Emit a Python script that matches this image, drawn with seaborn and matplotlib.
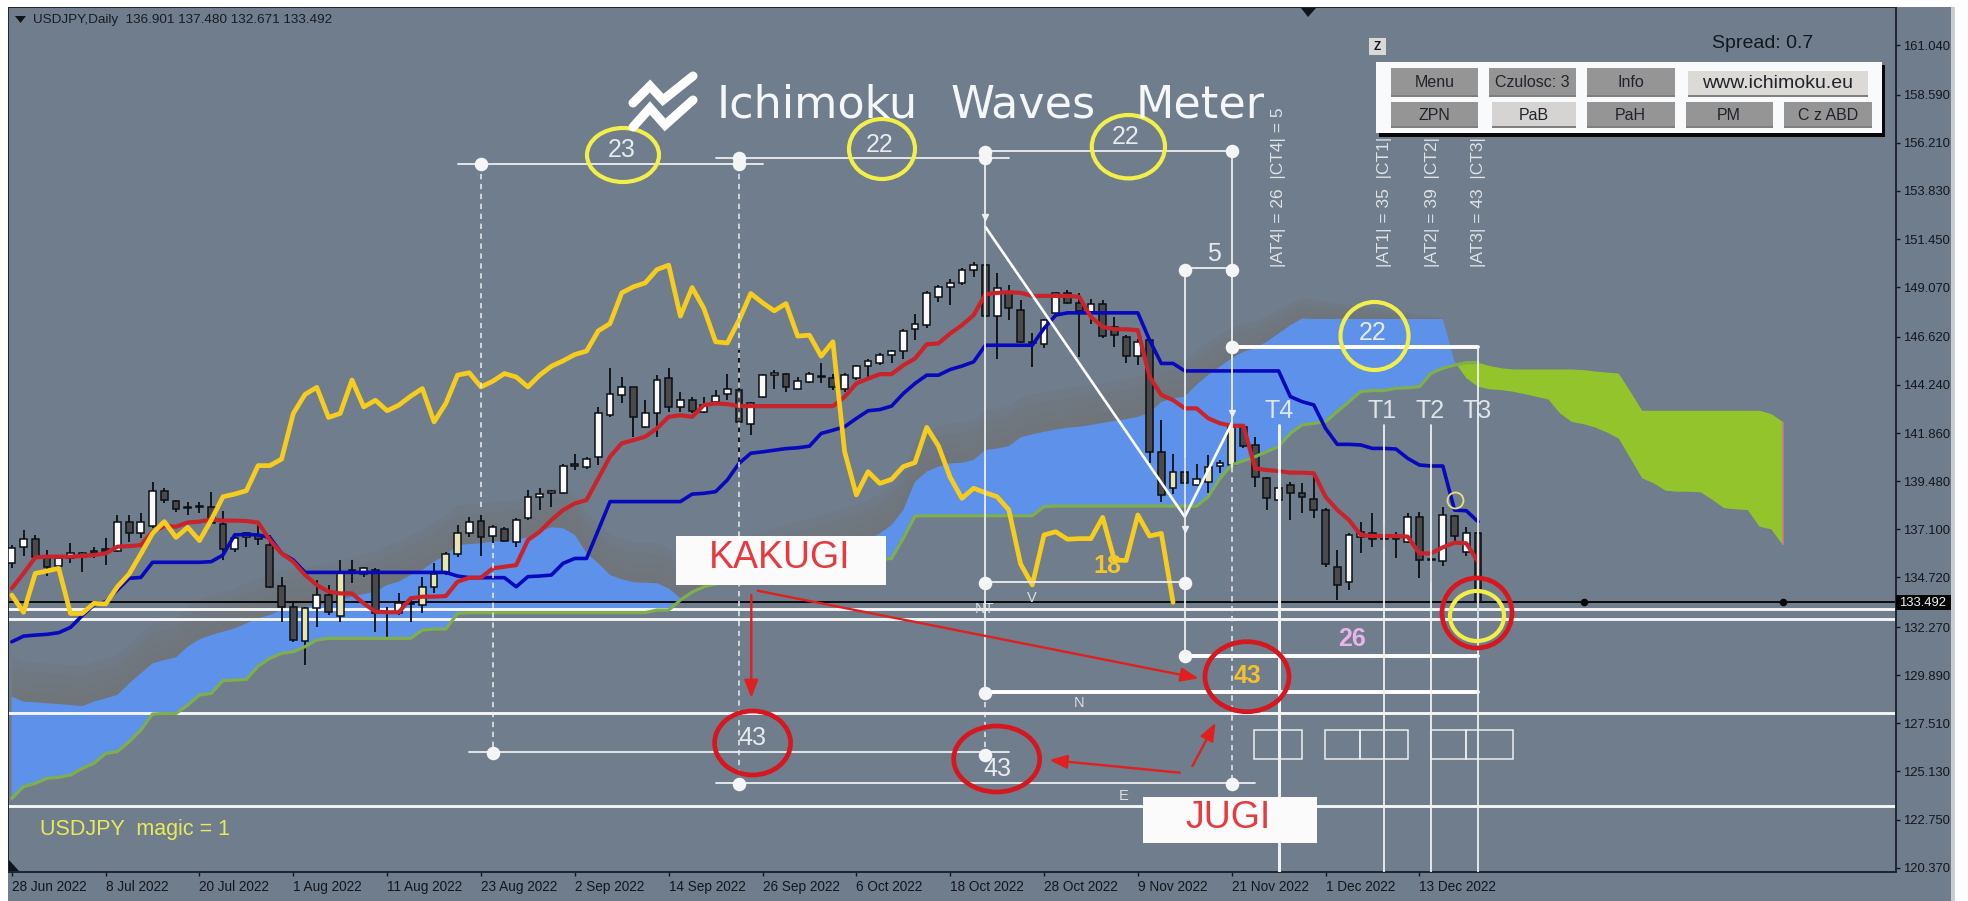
import matplotlib
matplotlib.use("Agg")
import matplotlib.pyplot as plt
import numpy as np
import pandas as pd
import seaborn as sns
from matplotlib.patches import Ellipse, Polygon, Rectangle
from matplotlib.transforms import Affine2D

# USDJPY daily candles (bar 0 = 28 Jun 2022)
opens = [135.42, 136.21, 136.62, 135.66, 135.30, 135.66, 135.71, 136.03, 136.11, 136.03,
         137.48, 136.90, 137.26, 139.01, 138.50, 138.19, 138.22, 138.22, 137.36, 136.11,
         136.70, 136.82, 136.32, 134.30, 133.27, 131.59, 133.19, 133.85, 132.83, 135.06,
         134.87, 135.09, 132.96, 132.94, 133.47, 133.36, 134.23, 135.00, 135.88, 136.90,
         137.51, 136.77, 137.11, 136.49, 137.64, 138.71, 138.88, 138.91, 140.27, 140.16,
         140.66, 142.75, 143.74, 144.15, 142.14, 142.83, 144.59, 143.15, 143.48, 142.91,
         143.40, 143.81, 144.01, 142.33, 143.65, 144.75, 144.80, 144.06, 144.39, 144.65,
         144.59, 144.06, 144.59, 145.16, 145.30, 145.71, 145.91, 146.98, 147.19, 148.56,
         149.09, 149.28, 149.94, 150.16, 147.64, 148.76, 147.93, 146.33, 146.25, 147.80,
         148.76, 148.30, 147.85, 148.23, 147.11, 146.62, 145.66, 146.45, 140.94, 139.16,
         139.95, 139.29, 139.42, 140.23, 140.28, 142.14, 141.25, 139.65, 138.55, 139.29,
         138.91, 138.58, 138.06, 135.22, 134.51, 136.70, 136.90, 136.66, 136.66, 136.49,
         137.69, 135.60, 135.53, 137.78, 135.96, 136.901]
highs = [136.32, 137.07, 136.82, 136.08, 135.83, 136.41, 135.99, 136.24, 136.65, 137.81,
         137.81, 137.89, 139.45, 139.16, 138.55, 138.47, 138.47, 138.96, 138.02, 136.90,
         136.98, 137.31, 136.82, 134.76, 133.52, 133.27, 134.59, 134.35, 135.58, 135.58,
         135.25, 135.17, 133.27, 133.93, 133.77, 134.76, 135.42, 135.99, 137.31, 137.72,
         137.81, 137.31, 137.20, 137.64, 139.04, 139.12, 139.04, 140.33, 140.82, 140.69,
         143.16, 145.06, 144.65, 144.15, 143.49, 144.73, 145.05, 143.90, 143.65, 143.65,
         143.98, 144.77, 145.96, 143.40, 144.80, 144.97, 144.84, 144.64, 144.88, 145.30,
         144.80, 144.84, 145.21, 145.54, 145.82, 145.96, 146.98, 147.72, 148.89, 149.17,
         149.45, 150.00, 150.32, 152.05, 149.75, 149.17, 148.43, 146.78, 147.52, 148.84,
         148.92, 148.76, 148.51, 148.43, 147.60, 146.70, 146.53, 146.53, 142.50, 140.82,
         140.69, 140.33, 140.77, 140.53, 142.34, 142.26, 141.65, 139.70, 139.70, 139.46,
         139.37, 139.79, 138.14, 136.08, 136.93, 137.48, 137.92, 137.26, 136.98, 137.92,
         137.97, 136.08, 138.22, 137.81, 137.23, 137.48]
lows = [135.17, 135.78, 135.66, 134.79, 134.84, 135.42, 135.00, 135.66, 135.33, 135.99,
        136.49, 136.65, 137.15, 138.38, 137.97, 137.81, 137.89, 137.36, 135.58, 135.99,
        136.24, 136.32, 134.18, 132.53, 131.54, 130.39, 132.29, 132.86, 132.53, 134.43,
        134.76, 132.04, 131.79, 132.86, 132.53, 132.94, 133.93, 134.84, 135.75, 136.70,
        135.78, 136.32, 136.49, 136.21, 137.56, 138.05, 138.22, 138.86, 140.03, 140.06,
        140.28, 142.67, 143.33, 141.68, 142.09, 141.68, 142.91, 142.91, 142.83, 142.83,
        143.32, 143.48, 140.35, 141.75, 143.57, 144.06, 143.90, 144.06, 144.31, 144.31,
        143.98, 143.90, 144.47, 144.64, 145.21, 145.30, 145.54, 146.45, 147.03, 148.35,
        148.18, 149.17, 149.58, 146.12, 145.54, 147.44, 146.29, 145.13, 146.04, 147.69,
        148.23, 145.63, 147.27, 146.58, 146.12, 145.30, 145.22, 140.36, 138.47, 138.85,
        137.89, 139.29, 138.91, 139.87, 140.20, 141.10, 139.21, 138.06, 138.38, 137.56,
        137.92, 137.64, 135.22, 133.61, 134.10, 135.91, 136.21, 136.21, 135.67, 136.44,
        134.68, 134.51, 135.29, 136.49, 135.78, 132.671]
closes = [136.16, 136.60, 135.71, 135.25, 135.66, 135.91, 135.91, 135.91, 136.01, 137.48,
          136.90, 137.48, 139.01, 138.55, 138.10, 138.15, 138.18, 137.39, 136.11, 136.65,
          136.90, 136.60, 134.26, 133.27, 131.63, 133.19, 133.85, 133.00, 134.92, 135.04,
          135.17, 132.94, 132.94, 133.44, 133.41, 134.26, 134.89, 135.88, 136.90, 137.48,
          136.70, 137.20, 136.54, 137.56, 138.71, 138.84, 139.01, 140.25, 140.25, 140.57,
          142.83, 143.77, 144.12, 142.63, 142.83, 144.48, 143.15, 143.48, 142.96, 143.24,
          143.68, 144.06, 142.41, 143.32, 144.72, 144.84, 144.14, 144.42, 144.80, 144.63,
          144.14, 144.72, 145.16, 145.43, 145.74, 145.91, 146.91, 147.27, 148.79, 149.09,
          149.28, 149.94, 150.16, 147.64, 149.05, 148.02, 146.37, 146.31, 147.44, 148.76,
          148.30, 147.90, 148.26, 146.65, 146.70, 145.66, 146.37, 140.94, 138.80, 139.95,
          139.37, 139.57, 140.20, 140.40, 142.14, 141.22, 139.67, 138.63, 139.13, 138.91,
          138.71, 138.06, 135.39, 134.35, 136.82, 136.98, 136.61, 136.64, 136.64, 137.69,
          135.58, 135.56, 137.81, 136.77, 136.90, 133.492]
cream_bars = [25, 28, 35, 36, 37, 38, 99, 102, 104]

# Ichimoku lines
kijun = [131.54, 131.82, 131.87, 131.91, 131.99, 132.25, 132.83, 133.36, 133.52, 134.10,
         134.68, 134.72, 135.47, 135.47, 135.47, 135.47, 135.47, 135.50, 135.83, 136.82,
         136.85, 136.82, 136.70, 135.91, 135.58, 134.97, 134.97, 134.97, 134.97, 134.97,
         134.97, 134.97, 134.97, 134.97, 134.97, 134.97, 134.97, 134.97, 134.79, 134.71,
         134.71, 134.71, 134.71, 134.26, 134.76, 134.79, 134.84, 135.42, 135.66, 135.66,
         137.06, 138.47, 138.47, 138.47, 138.47, 138.47, 138.47, 138.47, 138.84, 138.88,
         138.96, 139.54, 140.36, 140.86, 140.93, 141.01, 141.09, 141.13, 141.21, 141.84,
         142.00, 142.17, 142.58, 142.96, 143.02, 143.19, 143.81, 144.31, 144.72, 144.72,
         145.00, 145.17, 145.38, 146.20, 146.20, 146.20, 146.20, 146.20, 147.03, 147.69,
         147.80, 147.80, 147.80, 147.80, 147.80, 147.80, 147.80, 146.45, 145.30, 145.30,
         144.93, 144.93, 144.93, 144.93, 144.93, 144.93, 144.93, 144.93, 144.93, 143.66,
         143.41, 143.25, 142.09, 141.30, 141.30, 141.27, 141.10, 141.10, 141.07, 140.61,
         140.28, 140.23, 140.23, 138.05, 138.02, 137.48]
tenkan = [134.18, 134.92, 135.71, 135.75, 135.75, 135.75, 135.78, 135.83, 135.91, 136.24,
          136.27, 136.32, 136.98, 137.26, 137.23, 137.44, 137.48, 137.59, 137.53, 137.53,
          137.51, 137.43, 136.57, 135.91, 135.50, 134.84, 134.35, 134.02, 133.93, 133.93,
          133.44, 133.03, 133.00, 133.00, 133.69, 133.77, 133.77, 133.80, 134.51, 134.71,
          134.71, 135.17, 135.25, 135.33, 136.57, 136.98, 137.56, 138.05, 138.38, 138.55,
          139.62, 140.69, 141.35, 141.51, 141.68, 142.09, 142.66, 142.74, 142.66, 143.24,
          143.32, 143.29, 143.19, 143.19, 143.19, 143.19, 143.19, 143.19, 143.19, 143.19,
          143.19, 143.65, 144.31, 144.55, 144.77, 144.77, 145.21, 145.54, 146.25, 146.29,
          146.78, 147.19, 147.69, 148.72, 148.79, 148.82, 148.79, 148.64, 148.64, 148.64,
          148.64, 148.59, 147.60, 147.11, 146.99, 146.99, 146.94, 144.64, 143.74, 143.49,
          143.08, 143.08, 142.59, 142.34, 142.22, 142.22, 140.11, 140.03, 139.98, 139.90,
          139.90, 139.87, 138.71, 138.06, 137.56, 136.82, 136.77, 136.77, 136.77, 136.74,
          135.91, 135.91, 136.21, 136.44, 136.41, 135.50]
chikou = [133.85, 133.00, 134.92, 135.04, 135.17, 132.94, 132.94, 133.44, 133.41, 134.26,
          134.89, 135.88, 136.90, 137.48, 136.70, 137.20, 136.54, 137.56, 138.71, 138.84,
          139.01, 140.25, 140.25, 140.57, 142.83, 143.77, 144.12, 142.63, 142.83, 144.48,
          143.15, 143.48, 142.96, 143.24, 143.68, 144.06, 142.41, 143.32, 144.72, 144.84,
          144.14, 144.42, 144.80, 144.63, 144.14, 144.72, 145.16, 145.43, 145.74, 145.91,
          146.91, 147.27, 148.79, 149.09, 149.28, 149.94, 150.16, 147.64, 149.05, 148.02,
          146.37, 146.31, 147.44, 148.76, 148.30, 147.90, 148.26, 146.65, 146.70, 145.66,
          146.37, 140.94, 138.80, 139.95, 139.37, 139.57, 140.20, 140.40, 142.14, 141.22,
          139.67, 138.63, 139.13, 138.91, 138.71, 138.06, 135.39, 134.35, 136.82, 136.98,
          136.61, 136.64, 136.64, 137.69, 135.58, 135.56, 137.81, 136.77, 136.90, 133.492]
span_low = [123.80, 124.38, 124.54, 124.79, 124.84, 124.95, 125.28, 125.53, 126.02, 126.11,
            126.60, 127.18, 127.97, 128.00, 128.00, 128.41, 128.91, 128.99, 129.62, 129.65,
            129.68, 130.34, 130.72, 130.97, 131.05, 131.30, 131.63, 131.71, 131.71, 131.71,
            131.71, 131.71, 131.71, 131.71, 131.71, 132.12, 132.17, 132.17, 132.94, 132.98,
            132.98, 132.98, 132.98, 132.98, 132.98, 132.98, 132.98, 132.98, 132.98, 132.98,
            132.98, 132.98, 132.98, 132.98, 132.98, 133.11, 133.11, 133.60, 134.00, 134.26,
            134.40, 134.50, 134.60, 134.70, 134.80, 134.85, 134.90, 135.00, 135.10, 135.20,
            135.30, 135.40, 135.45, 135.50, 135.60, 135.66, 136.65, 137.76, 137.77, 137.77,
            137.77, 137.77, 137.77, 137.77, 137.77, 137.77, 137.77, 137.77, 138.22, 138.25,
            138.25, 138.25, 138.25, 138.25, 138.25, 138.25, 138.25, 138.25, 138.25, 138.25,
            138.25, 138.25, 138.71, 139.62, 140.28, 140.49, 140.69, 140.94, 141.19, 141.85,
            142.26, 142.34, 142.42, 142.92, 143.41, 143.91, 143.96, 143.96, 144.07, 144.10,
            144.15, 144.81, 145.06, 145.22, 145.34, 145.34, 145.17, 145.06, 145.00, 145.00,
            145.00, 145.00, 145.00, 145.00, 144.97, 144.90, 144.85, 144.80, 143.90, 142.96,
            142.96, 142.96, 142.96, 142.96, 142.96, 142.96, 142.96, 142.96, 142.96, 142.96,
            142.80, 142.41]
span_top = [128.83, 128.58, 128.55, 128.50, 128.46, 128.41, 128.36, 128.58, 128.74, 128.91,
            129.48, 129.98, 130.47, 130.64, 130.77, 131.30, 131.66, 131.87, 132.04, 132.20,
            132.45, 132.70, 132.86, 133.11, 133.19, 133.27, 133.36, 133.40, 133.60, 133.77,
            133.90, 134.02, 134.35, 134.51, 134.84, 135.09, 135.50, 135.83, 136.32, 136.37,
            136.41, 136.49, 136.52, 136.57, 136.70, 136.98, 137.20, 137.15, 136.82, 135.91,
            135.42, 134.84, 134.63, 134.48, 134.46, 134.43, 134.18, 133.69, 133.93, 134.18,
            134.35, 134.51, 134.68, 134.84, 135.00, 135.17, 135.33, 135.50, 135.66, 135.83,
            135.99, 136.16, 136.32, 136.57, 136.90, 137.31, 138.05, 139.45, 139.95, 140.20,
            140.36, 140.39, 140.53, 141.02, 141.09, 141.21, 141.64, 141.80, 141.92, 142.03,
            142.12, 142.17, 142.25, 142.36, 142.46, 142.54, 142.66, 142.86, 143.40, 143.57,
            143.66, 144.24, 144.73, 145.14, 145.55, 145.88, 146.05, 146.38, 146.78, 147.19,
            147.52, 147.50, 147.50, 147.50, 147.50, 147.50, 147.50, 147.50, 147.50, 147.50,
            147.50, 147.50, 147.50, 145.39, 144.57, 144.15, 144.02, 143.98, 143.90, 143.78,
            143.65, 143.52, 142.83, 142.41, 142.30, 142.13, 141.89, 141.59, 140.61, 139.62,
            139.37, 139.01, 138.96, 138.96, 138.93, 138.55, 138.14, 138.09, 138.05, 137.23,
            137.10, 136.32]

# axis labels
tick_bars = [0, 8, 16, 24, 32, 40, 48, 56, 64, 72, 80, 88, 96, 104, 112, 120]
tick_dates = ["28 Jun 2022", "8 Jul 2022", "20 Jul 2022", "1 Aug 2022", "11 Aug 2022",
              "23 Aug 2022", "2 Sep 2022", "14 Sep 2022", "26 Sep 2022", "6 Oct 2022",
              "18 Oct 2022", "28 Oct 2022", "9 Nov 2022", "21 Nov 2022", "1 Dec 2022",
              "13 Dec 2022"]
price_ticks = [161.04, 158.59, 156.21, 153.83, 151.45, 149.07, 146.62, 144.24, 141.86,
               139.48, 137.10, 134.72, 132.27, 129.89, 127.51, 125.13, 122.75, 120.37]
last_price = 133.492
level_prices = [133.16, 132.66, 128.00, 123.44]

# wave measurement drawn on the chart
wave_bars = [83, 100, 104]
wave_prices = [152.05, 137.72, 142.34]
thin_segments = [(38, 64, 155.18), (60, 85, 155.48), (83, 104, 155.81), (100, 104, 150.00),
                 (83, 100, 134.51), (39, 85, 126.09), (60, 106, 124.57)]
thick_segments = [(104, 125, 146.09), (100, 125, 130.84), (83, 125, 129.07)]
solid_verticals = [(83, 155.70, 129.07), (100, 149.94, 130.84), (104, 155.80, 140.20)]
dashed_verticals = [(62, 155.18, 124.57), (40, 155.18, 138.20), (41, 136.40, 126.09),
                    (83, 129.07, 126.09), (104, 140.20, 124.57)]
target_verticals = [(108, 142.26, 3.0), (117, 142.25, 1.8), (121, 142.25, 1.8), (125, 146.09, 1.8)]
dot_bars = [40, 62, 62, 83, 83, 104, 100, 104, 104, 83, 100, 100, 83, 41, 83, 62, 104]
dot_prices = [155.18, 155.18, 155.45, 155.45, 155.75, 155.80, 149.94, 149.94, 146.09,
              134.46, 134.46, 130.84, 129.00, 126.02, 125.95, 124.50, 124.50]

BG = "#6f7d8d"
WHITE = "#f4f5f6"

sns.set_theme(style="white")
plt.rcParams["font.family"] = ["Liberation Sans", "DejaVu Sans"]

fig = plt.figure(figsize=(19.68, 9.01), dpi=100, facecolor=BG)
ax = fig.add_axes([8.4 / 1968, 29 / 901, (1895.6 - 8.4) / 1968, 865 / 901], facecolor=BG)
# everything that is not price data is placed in screenshot pixels
px = Affine2D().scale(1, -1).translate(0, 901) + Affine2D()

bars = np.arange(len(closes))
cloud_bars = np.arange(len(span_top))
top = np.array(span_top)
low = np.array(span_low)

# the screenshot goes neutral grey just above the blue cloud, fading out to the right
fade = np.clip((123 - cloud_bars[:123]) / 25, 0, 1)
for reach in [0.5, 1.0, 1.5, 2.0]:
    ax.fill_between(cloud_bars[:123], top[:123], top[:123] + reach * fade, color="#737270", alpha=0.22, lw=0, zorder=0.5)

# cloud
ax.fill_between(cloud_bars, top, low, where=top >= low, interpolate=True, color="#5e92ea", lw=0, zorder=1)
ax.fill_between(cloud_bars, top, low, where=top <= low, interpolate=True, color="#94c42b", lw=0, zorder=1)
ax.vlines(cloud_bars[-1], top[-1], low[-1], color="#c47f8f", lw=1.2, zorder=1)

# level lines
ax.axhline(last_price, color="#0a0a0a", lw=1.4, zorder=2)
for level in level_prices:
    ax.axhline(level, color=WHITE, lw=2.1, zorder=2)
sns.scatterplot(x=[134, 151], y=[last_price, last_price], ax=ax, color="#0a0a0a", s=30, linewidth=0, zorder=2)

# candles
candles = pd.DataFrame({"bar": bars, "open": opens, "high": highs, "low": lows, "close": closes})
up = candles["close"] >= candles["open"]
body_colors = ["#fafafa" if u else "#4a4a4c" for u in up]
for b in cream_bars:
    body_colors[b] = "#e9e4b4"
ax.vlines(candles["bar"], candles["low"], candles["high"], color="#0b0f14", lw=1.3, zorder=3)
heights = (candles["close"] - candles["open"]).abs().clip(lower=0.06)
ax.bar(candles["bar"], heights, bottom=candles[["open", "close"]].min(axis=1), width=0.58,
       color=body_colors, edgecolor="#0b0f14", linewidth=1.1, zorder=3)

# ichimoku lines
sns.lineplot(x=cloud_bars[:126], y=span_low[:126], ax=ax, color="#7fae4c", lw=2.3, zorder=4, estimator=None)
sns.lineplot(x=bars, y=kijun, ax=ax, color="#0808bc", lw=2.6, zorder=4, estimator=None)
sns.lineplot(x=bars, y=tenkan, ax=ax, color="#c9242b", lw=3.0, zorder=4, estimator=None)
sns.lineplot(x=np.arange(len(chikou)), y=chikou, ax=ax, color="#f6cc1f", lw=3.4, zorder=4, estimator=None)

# measuring lines
sns.lineplot(x=wave_bars, y=wave_prices, ax=ax, color="white", lw=1.9, zorder=5, estimator=None, sort=False)
for x0, x1, y in thin_segments:
    ax.plot([x0, x1], [y, y], color="#eceeef", lw=1.3, zorder=5)
for x0, x1, y in thick_segments:
    ax.plot([x0, x1], [y, y], color="white", lw=2.8, zorder=5)
for x, y0, y1 in solid_verticals:
    ax.plot([x, x], [y0, y1], color="#eceeef", lw=1.3, zorder=5)
for x, y0, y1 in dashed_verticals:
    ax.plot([x, x], [y0, y1], color="#eceeef", lw=1.1, ls=(0, (3.5, 3)), zorder=5)
for x, y0, w in target_verticals:
    ax.plot([x, x], [y0, 120.16], color="#f0f1f2", lw=w * 0.72, zorder=5)
sns.scatterplot(x=dot_bars, y=dot_prices, ax=ax, color="#f4f5f6", s=95, linewidth=0, zorder=6)
ax.plot([83, 100, 104], [152.55, 137.10, 142.83], ls="", marker="v", ms=4, color="#eceeef", zorder=6)
ax.plot([123], [138.55], ls="", marker="o", ms=11.5, mfc="none", mec="#e6e278", mew=1.3, zorder=6)

# axes
ax.set_xlim(-0.29, 160.6)
ax.set_ylim(120.16, 162.92)
ax.yaxis.tick_right()
ax.set_yticks(price_ticks)
ax.set_yticklabels([f"{p:.3f}" for p in price_ticks], fontsize=9.4, color="#12171e")
ax.set_xticks(tick_bars)
ax.set_xticklabels(tick_dates, fontsize=9.8, color="#12171e", ha="left")
for lab in ax.get_xticklabels():
    lab.set_transform(lab.get_transform() + Affine2D().translate(-3, 0))
ax.tick_params(axis="both", length=3, width=1, color="#12171e", bottom=True, right=True)
ax.tick_params(axis="y", pad=2)
ax.tick_params(axis="x", pad=2.5)
for side in ax.spines.values():
    side.set_color("#1c2530")
    side.set_linewidth(1.4)
    side.set_visible(True)
ax.grid(False)


def box(x0, y0, x1, y1, z=8, **kw):
    fig.add_artist(Rectangle((x0, y0), x1 - x0, y1 - y0, transform=px, zorder=z, **kw))


def label(x, y, s, size, color, z=9, **kw):
    kw.setdefault("ha", "center")
    kw.setdefault("va", "center")
    fig.text(x, y, s, transform=px, fontsize=size, color=color, zorder=z, **kw)


# white screenshot margins
box(0, 0, 1968, 7, fc="white", lw=0, z=7)
box(0, 0, 8, 901, fc="white", lw=0, z=7)
box(1951, 0, 1968, 901, fc="#fdfdfd", lw=0, z=7)
box(1951, 7, 1955, 901, fc="#c9cdd1", lw=0, z=7)

# header and small triangles
label(33, 20, "USDJPY,Daily  136.901 137.480 132.671 133.492", 9.7, "#161c24", ha="left")
fig.add_artist(Polygon([(15, 16), (26, 16), (20.5, 23)], transform=px, fc="#10151c", lw=0, zorder=9))
fig.add_artist(Polygon([(1301, 8), (1316, 8), (1308, 17)], transform=px, fc="#10151c", lw=0, zorder=9))
fig.add_artist(Polygon([(9, 860), (9, 871), (19, 871)], transform=px, fc="#10151c", lw=0, zorder=9))

# logo
for pts in ([(633, 103), (650, 86), (663, 100), (693, 76)], [(633, 127), (650, 108), (665, 125), (693, 100)]):
    xs, ys = zip(*pts)
    fig.add_artist(plt.Line2D(xs, ys, transform=px, color="white", lw=6.5, zorder=9, solid_joinstyle="miter"))
for x, word in [(717, "Ichimoku"), (951, "Waves"), (1136, "Meter")]:
    label(x, 105, word, 32, "#f4f6f8", ha="left", family="DejaVu Sans")

# rotated counters
for x, s in [(1278.7, "|AT4| = 26  |CT4| = 5"), (1385, "|AT1| = 35  |CT1|"),
             (1432, "|AT2| = 39  |CT2|"), (1479, "|AT3| = 43  |CT3|")]:
    label(x, 267, s, 12.5, "#dfe3e6", rotation=90, va="bottom", z=7)

for x, s in [(1279, "T4"), (1382, "T1"), (1430, "T2"), (1477, "T3")]:
    label(x, 411, s, 18, "#dfe4e8")

# numbers
for x, y, s in [(622, 150, "23"), (880, 145, "22"), (1126, 137, "22"), (1372.5, 333, "22"),
                (752, 738, "43"), (997.5, 769, "43"), (1213.5, 254, "5")]:
    label(x, y, s, 18, "#e8ebee")
label(1247, 676, "43", 18, "#f3c12b", weight="bold")
label(1107.5, 566, "18", 18, "#f3c62b", weight="bold")
label(1352, 639, "26", 18, "#e9b4ea", weight="bold")
for x, y, s in [(1031.6, 598, "V"), (985, 609, "NT"), (1078.8, 703, "N"), (1124, 796, "E")]:
    label(x, y, s, 10.5, "#dcdfe2")
label(40, 829, "USDJPY  magic = 1", 15.5, "#e9e95a", ha="left")

# little rectangles under the counters
for x0, x1 in [(1254, 1302), (1325, 1360), (1360, 1408), (1431, 1465.5), (1465.5, 1513)]:
    box(x0, 730, x1, 759, fc="none", ec="#eceeef", lw=1.1)

# white boxes
box(676, 536, 886, 585, fc="#fbfbfb", lw=0)
label(780, 558, "KAKUGI", 27, "#e63a3f")
box(1143, 797, 1317, 843, fc="#fbfbfb", lw=0)
label(1228, 818, "JUGI", 27, "#e63a3f")

# red and yellow rings
for x, y, rx, ry in [(752.6, 743, 38, 32), (996.7, 759, 43, 33), (1247, 676.7, 42, 35), (1477, 613, 35, 35)]:
    fig.add_artist(Ellipse((x, y), 2 * rx, 2 * ry, transform=px, fc="none", ec="#d7171f", lw=3.4, zorder=8))
for x, y, rx, ry in [(623, 155, 36, 27), (882, 149, 33, 30), (1128.4, 146.7, 36.6, 31.7),
                     (1374.5, 336, 34, 34), (1477, 616, 27, 25)]:
    fig.add_artist(Ellipse((x, y), 2 * rx, 2 * ry, transform=px, fc="none", ec="#f2ee4a", lw=3.0, zorder=8))

# red arrows
for start, end in [((751.3, 595), (751.3, 698)), ((757.6, 590.7), (1198.7, 678.3)),
                   ((1179.8, 772.7), (1049.3, 760)), ((1192.4, 766), (1215.6, 722.7))]:
    ax.annotate("", xy=end, xytext=start, xycoords=px, textcoords=px, zorder=9, annotation_clip=False,
                arrowprops=dict(arrowstyle="-|>,head_length=0.9,head_width=0.35", color="#e0201f", lw=1.7,
                                shrinkA=0, shrinkB=0))

# control panel
box(1379, 65, 1885, 137, fc="#0a0808", lw=0)
box(1376, 62, 1882, 133, fc="#f8fafc", lw=0)
for x0, y0, x1, y1, s, col, size in [
        (1391, 68, 1478, 97, "Menu", "#959595", 11.5), (1489, 68, 1576, 97, "Czulosc: 3", "#959595", 11.5),
        (1587, 68, 1674.5, 97, "Info", "#959595", 11.5), (1688, 71, 1867.5, 97, "www.ichimoku.eu", "#dcdad7", 14),
        (1391, 102, 1478, 128, "ZPN", "#959595", 11.5), (1491.5, 102, 1576, 128, "PaB", "#d6d4d2", 11.5),
        (1587, 102, 1674.5, 128, "PaH", "#959595", 11.5), (1686, 102, 1772.5, 128, "PM", "#959595", 11.5),
        (1784, 102, 1871.5, 128, "C z ABD", "#959595", 11.5)]:
    box(x0, y0, x1, y1, fc=col, lw=0, z=9)
    box(x0, y1 - 2, x1, y1, fc="#7f7f7f", lw=0, z=9)
    label((x0 + x1) / 2, (y0 + y1) / 2, s, size, "#20242a", z=10)
box(1369, 38, 1386, 55, fc="#d9d9d9", lw=0)
label(1377.5, 46.5, "Z", 8.5, "#12171e", weight="bold")
label(1763, 43, "Spread: 0.7", 14, "#12171e")

# last price tag
box(1896, 595, 1951, 610, fc="#050505", lw=0)
label(1923, 602.5, "133.492", 9.4, "#eeeeee")

fig.savefig("out.png", dpi=100, facecolor=fig.get_facecolor())
